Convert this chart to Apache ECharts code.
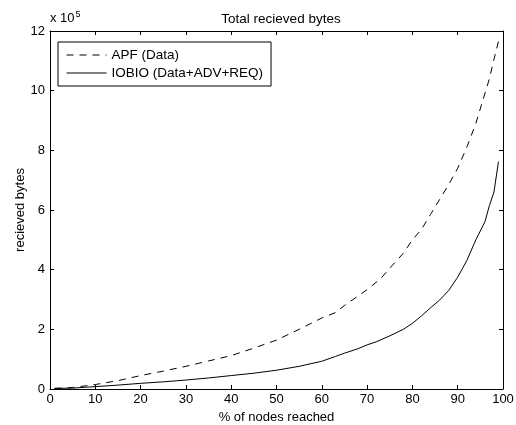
<!DOCTYPE html>
<html>
<head>
<meta charset="utf-8">
<script src="https://cdn.jsdelivr.net/npm/echarts@6/dist/echarts.min.js"></script>
<style>html,body{margin:0;padding:0;background:#fff}#c{width:516px;height:425px}</style>
</head>
<body>
<div id="c"></div>
<script>
// Values in units of 1e5 bytes
const apfX = [1, 5, 10, 15, 20, 25, 30, 35, 40, 45, 50, 55, 60, 63, 65, 70, 73, 75, 78, 80, 82, 84, 86, 88, 90, 92, 94, 96, 97, 98, 99];
const apfY = [0.02, 0.05, 0.15, 0.28, 0.45, 0.6, 0.76, 0.94, 1.12, 1.37, 1.64, 2.0, 2.38, 2.56, 2.8, 3.33, 3.7, 4.05, 4.55, 5.0, 5.35, 5.85, 6.35, 6.85, 7.4, 8.1, 8.9, 9.9, 10.4, 11.05, 11.65];
const iobioX = [1, 5, 10, 15, 20, 25, 30, 35, 40, 45, 50, 55, 60, 63, 65, 68, 70, 72, 75, 78, 80, 82, 84, 86, 88, 90, 92, 94, 96, 97, 98, 99];
const iobioY = [0.02, 0.03, 0.08, 0.13, 0.19, 0.24, 0.3, 0.37, 0.45, 0.53, 0.63, 0.76, 0.93, 1.09, 1.2, 1.35, 1.48, 1.58, 1.78, 2.0, 2.2, 2.45, 2.72, 2.98, 3.3, 3.75, 4.3, 5.0, 5.6, 6.15, 6.6, 7.62];
const seriesNames = ['APF (Data)', 'IOBIO (Data+ADV+REQ)'];
const xTicks = [0, 10, 20, 30, 40, 50, 60, 70, 80, 90, 100];
const yTicks = [0, 2, 4, 6, 8, 10, 12];

const F = 'Liberation Sans, Arial, sans-serif';
const FS = 13;
const chart = echarts.init(document.getElementById('c'), null, {renderer: 'canvas'});
const pair = (xs, ys) => xs.map((x, i) => [x, ys[i]]);
const axisBase = {
  axisLine: {show: true, onZero: false, lineStyle: {color: '#000', width: 1}},
  axisTick: {show: true, inside: true, length: 4, lineStyle: {color: '#000'}},
  splitLine: {show: false}
};
chart.setOption({
  animation: false,
  backgroundColor: '#fff',
  textStyle: {fontFamily: F},
  title: {
    text: 'Total recieved bytes', left: 276, top: 7, textAlign: 'center',
    textStyle: {fontFamily: F, fontSize: 13.5, fontWeight: 'normal', color: '#000'}
  },
  graphic: [{
    type: 'text', left: 50, top: 10,
    style: {
      text: '{a|x 10}{b|5}', fill: '#000',
      rich: {a: {fontFamily: F, fontSize: 13, fill: '#000'}, b: {fontFamily: F, fontSize: 9, fill: '#000', verticalAlign: 'top', padding: [0, 0, 7, 1]}}
    }
  }],
  legend: {
    orient: 'vertical', left: 58, top: 42,
    data: seriesNames,
    borderColor: '#000', borderWidth: 1, padding: [6, 8, 6, 8],
    itemWidth: 40, itemHeight: 14, itemGap: 4,
    itemStyle: {opacity: 0},
    lineStyle: {width: 1},
    textStyle: {fontFamily: F, fontSize: 13.5, color: '#000'}
  },
  grid: {left: 50, right: 13, top: 31, bottom: 36, containLabel: false, outerBoundsMode: 'none'},
  xAxis: [{
    ...axisBase, type: 'value', min: 0, max: 100, interval: 10, position: 'bottom',
    name: '% of nodes reached', nameLocation: 'middle', nameGap: 21.5, nameMoveOverlap: false,
    nameTextStyle: {fontFamily: F, fontSize: FS, color: '#000'},
    axisLabel: {fontFamily: F, fontSize: FS, color: '#000', margin: 4,
      customValues: xTicks}
  }, {
    ...axisBase, type: 'value', min: 0, max: 100, interval: 10, position: 'top',
    axisLabel: {show: false}
  }],
  yAxis: [{
    ...axisBase, type: 'value', min: 0, max: 12, interval: 2, position: 'left',
    name: 'recieved bytes', nameLocation: 'middle', nameGap: 23.5, nameMoveOverlap: false,
    nameTextStyle: {fontFamily: F, fontSize: FS, color: '#000'},
    axisLabel: {fontFamily: F, fontSize: FS, color: '#000', margin: 5,
      customValues: yTicks}
  }, {
    ...axisBase, type: 'value', min: 0, max: 12, interval: 2, position: 'right',
    axisLabel: {show: false}
  }],
  series: [{
    name: seriesNames[0], type: 'line', symbol: 'none', xAxisIndex: 0, yAxisIndex: 0,
    data: pair(apfX, apfY),
    lineStyle: {color: '#000', width: 1, type: [7, 6]},
    itemStyle: {color: '#000'}
  }, {
    name: seriesNames[1], type: 'line', symbol: 'none', xAxisIndex: 0, yAxisIndex: 0,
    data: pair(iobioX, iobioY),
    lineStyle: {color: '#000', width: 1, type: 'solid'},
    itemStyle: {color: '#000'}
  }]
});
</script>
</body>
</html>
